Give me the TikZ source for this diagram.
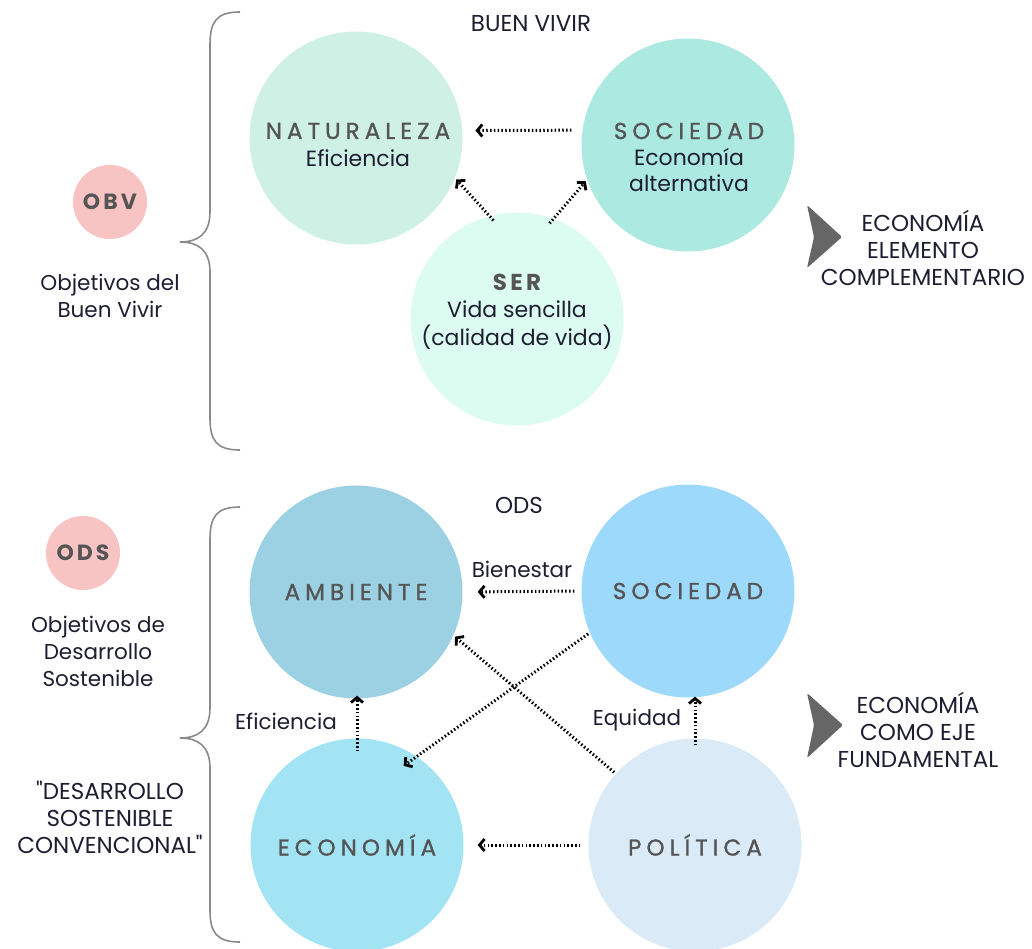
\documentclass[tikz,border=0pt]{standalone}
\usepackage{fontspec}
\setmainfont{Poppins}[Ligatures=TeXOff]
\newfontfamily\capsfont[LetterSpace=22, FakeBold=1.2]{Poppins}
\newfontfamily\tagfont[LetterSpace=14]{Poppins}
\usetikzlibrary{arrows.meta}
\definecolor{natcol}{HTML}{CFF0E5}
\definecolor{socacol}{HTML}{ACEAE1}
\definecolor{sercol}{HTML}{DCFBF1}
\definecolor{ambcol}{HTML}{9CD1E4}
\definecolor{socbcol}{HTML}{9DD9FB}
\definecolor{ecocol}{HTML}{A2E4F4}
\definecolor{polcol}{HTML}{DAEBF7}
\definecolor{tagcol}{HTML}{F8C3C3}
\definecolor{capcol}{HTML}{555555}
\definecolor{txtcol}{HTML}{1E1E32}
\definecolor{bracecol}{HTML}{8A8A8A}
\definecolor{chevcol}{HTML}{666666}
\begin{document}
\begin{tikzpicture}[
        x=1pt, y=-1pt,
        bubble/.style = {
            circle, minimum size=213pt, inner sep=0pt
        },
        bubtext/.style = {
            align=center, text=txtcol, font=\fontsize{22}{28}\selectfont
        },
        caps/.style = {
            text=capcol, font=\capsfont\fontsize{23}{28}\selectfont
        },
        tag/.style = {
            circle, minimum size=74pt, inner sep=0pt, fill=tagcol,
            text=capcol, font=\tagfont\bfseries\fontsize{22}{24}\selectfont
        },
        note/.style = {
            align=center, text=txtcol, font=\fontsize{21.5}{27}\selectfont
        },
        bignote/.style = {
            align=center, text=txtcol, font=\fontsize{23}{27}\selectfont
        },
        flow/.style = {
            line width=3pt, dash pattern=on 1.5pt off 2.3pt,
            -{Straight Barb[length=5pt, width=12pt, line width=2.8pt]}
        },
        brace/.style = {
            draw=bracecol, line width=1.6pt
        },
        chevron/.style = {
            fill=chevcol, rounded corners=1.5pt
        },
    ]
    \clip (0,0) rectangle (1032,948);
    \useasboundingbox (0,0) rectangle (1032,948);

    \node[bignote] (buenvivir) at (531,24) {BUEN VIVIR};
    \node[bubble, fill=natcol] (nat) at (356,138) {};
    \node[bubble, fill=socacol] (soca) at (688,145) {};
    \node[bubble, fill=sercol] (ser) at (517,319) {};
    \node[bubtext] (nattext) at (358,145) {{\capsfont\fontsize{23}{28}\selectfont\color{capcol}NATURALEZA}\\Eficiencia};
    \node[bubtext] (socatext) at (689,157) {{\capsfont\fontsize{23}{28}\selectfont\color{capcol}SOCIEDAD}\\[-2pt]Economía\\[-2pt]alternativa};
    \node[bubtext] (sertext) at (517,312) {{\tagfont\bfseries\fontsize{23}{28}\selectfont\color{capcol}SER}\\[-1pt]Vida sencilla\\(calidad de vida)};

    \draw[flow, shorten <=11pt, shorten >=13pt] (soca.172) -- (nat.4);
    \draw[flow, shorten <=-6pt, shorten >=2pt] (ser.105) -- (nat.338);
    \draw[flow, shorten <=-6pt, shorten >=2pt] (ser.70) -- (soca.199);

    \node[tag] (obv) at (110,202) {OBV};
    \node[note] (obvtext) at (110,296) {Objetivos del\\Buen Vivir};
    \draw[brace] (240,12) .. controls (216,12) and (210,22) .. (210,45) -- (210,212)
        .. controls (210,234) and (198,242) .. (180,242)
        .. controls (198,242) and (210,250) .. (210,272) -- (210,418)
        .. controls (210,440) and (216,450) .. (240,450);

    \fill[chevron] (807,205) -- (842,237) -- (807,268) -- (814,237) -- cycle;
    \node[bignote] (econa) at (923,248) {ECONOMÍA\\ELEMENTO\\COMPLEMENTARIO};

    \node[bignote] (ods) at (519,505) {ODS};
    \node[bubble, fill=ambcol, caps] (amb) at (356,592) {AMBIENTE};
    \node[bubble, fill=socbcol, caps] (socb) at (688,591) {SOCIEDAD};
    \node[bubble, fill=ecocol, caps] (eco) at (357,845) {ECONOMÍA};
    \node[bubble, fill=polcol, caps] (pol) at (695,845) {POLÍTICA};

    \draw[flow, shorten <=7pt, shorten >=15pt] (socb.west) -- (amb.east)
        node[note, pos=0.5, above=9pt] (bienestar) {Bienestar};
    \draw[flow, shorten <=8pt, shorten >=14pt] (pol.west) -- (eco.east);
    \draw[flow, shorten <=-13pt, shorten >=-3pt] (eco.north) -- (eco.north |- amb.south);
    \draw[flow, shorten <=-7pt, shorten >=-1pt] (pol.north) -- (pol.north |- socb.south);
    \draw[flow, shorten <=2pt, shorten >=-16pt] (socb.203) -- (eco.56);
    \draw[flow, shorten <=2pt, shorten >=2pt] (pol.138) -- (amb.336);
    \node[note] (eficiencia) at (286,721) {Eficiencia};
    \node[note] (equidad) at (637,720) {Equidad};

    \node[tag] (odstag) at (83,553) {ODS};
    \node[note] (odstext) at (98,651) {Objetivos de\\Desarrollo\\Sostenible};
    \node[bignote] (convtext) at (110,817) {"DESARROLLO\\SOSTENIBLE\\CONVENCIONAL"};
    \draw[brace] (240,507) .. controls (216,507) and (210,517) .. (210,540) -- (210,708)
        .. controls (210,730) and (198,738) .. (180,738)
        .. controls (198,738) and (210,746) .. (210,768) -- (210,910)
        .. controls (210,932) and (216,942) .. (240,942);

    \fill[chevron] (807,693) -- (843,725) -- (807,758) -- (814,725) -- cycle;
    \node[bignote] (econb) at (918,730) {ECONOMÍA\\COMO EJE\\FUNDAMENTAL};
\end{tikzpicture}
\end{document}
